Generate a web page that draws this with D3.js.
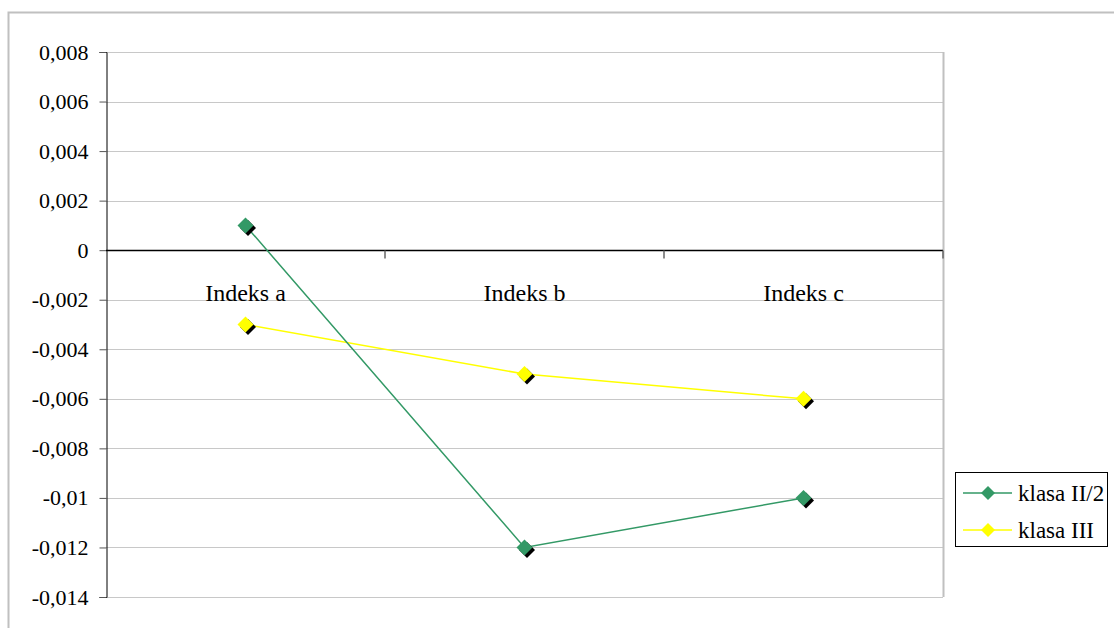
<!DOCTYPE html>
<html><head><meta charset="utf-8">
<script src="https://cdn.jsdelivr.net/npm/d3@7"></script>
<style>body{margin:0;background:#fff}svg{display:block}</style>
</head><body><svg id="c" width="1114" height="628"></svg>
<script>
const categories = ["Indeks a", "Indeks b", "Indeks c"];
const seriesNames = ["klasa II/2", "klasa III"];
const klasaII2 = [0.001, -0.012, -0.010];
const klasaIII = [-0.003, -0.005, -0.006];
const yTicks = [0.008, 0.006, 0.004, 0.002, 0, -0.002, -0.004, -0.006, -0.008, -0.01, -0.012, -0.014];
const colors = ["#339966", "#FFFF00"];

const FONT = "Liberation Serif";
const svg = d3.select("#c");
const L = 106, R = 943, T = 52, B = 597;
// outer border
svg.append("rect").attr("x", 8.5).attr("y", 12.5).attr("width", 1120).attr("height", 640)
  .attr("fill", "none").attr("stroke", "#c0c0c0").attr("stroke-width", 2);

const x = d3.scaleBand().domain(categories).range([L, R]).padding(0);
const y = d3.scaleLinear().domain([-0.014, 0.008]).range([B, T]);
const fmt = v => v === 0 ? "0" : String(+v.toFixed(3)).replace(".", ",");

// gridlines
svg.append("g").selectAll("line").data(yTicks).join("line")
  .attr("x1", L).attr("x2", R).attr("y1", d => Math.round(y(d)) + 0.5).attr("y2", d => Math.round(y(d)) + 0.5)
  .attr("stroke", "#c8c8c8").attr("stroke-width", 1);
// right border of plot
svg.append("line").attr("x1", R + 0.5).attr("x2", R + 0.5).attr("y1", T).attr("y2", B)
  .attr("stroke", "#c0c0c0").attr("stroke-width", 2);

// y axis
const yAxis = d3.axisLeft(y).tickValues(yTicks).tickSize(7).tickPadding(11).tickFormat(fmt);
const ya = svg.append("g").attr("transform", `translate(${L + 0.5},0)`).call(yAxis)
  .attr("font-family", FONT).attr("font-size", 22);
ya.select(".domain").attr("stroke", "#000");
ya.selectAll(".tick line").attr("stroke", "#555");
ya.selectAll(".tick text").attr("fill", "#000");

// zero line with category ticks
const y0 = Math.round(y(0)) + 0.5;
svg.append("line").attr("x1", L).attr("x2", R).attr("y1", y0).attr("y2", y0).attr("stroke", "#000").attr("stroke-width", 1.3);
const bounds = categories.map(c => x(c) + x.bandwidth());
svg.append("g").selectAll("line").data(bounds).join("line")
  .attr("x1", d => d).attr("x2", d => d).attr("y1", y0).attr("y2", y0 + 8)
  .attr("stroke", "#666").attr("stroke-width", 1.5);
svg.append("g").selectAll("text").data(categories).join("text")
  .attr("x", d => x(d) + x.bandwidth() / 2).attr("y", y0 + 50)
  .attr("text-anchor", "middle").attr("font-family", FONT).attr("font-size", 24).text(d => d);

const cx = c => x(c) + x.bandwidth() / 2;
function diamond(g, px, py, color, s) {
  const path = `M0,${-s}L${s},0L0,${s}L${-s},0Z`;
  g.append("path").attr("d", path).attr("transform", `translate(${px + 2.5},${py + 2.5})`).attr("fill", "#000");
  g.append("path").attr("d", path).attr("transform", `translate(${px},${py})`).attr("fill", color);
}
const series = [klasaII2, klasaIII];
const line = d3.line().x((d, i) => cx(categories[i])).y(d => y(d));
[1, 0].forEach(si => {
  svg.append("path").attr("d", line(series[si])).attr("fill", "none").attr("stroke", colors[si]).attr("stroke-width", 1.5);
});
[1, 0].forEach(si => {
  const g = svg.append("g");
  series[si].forEach((v, i) => diamond(g, cx(categories[i]), y(v), colors[si], 8));
});

// legend
const lg = svg.append("g");
lg.append("rect").attr("x", 955.5).attr("y", 472.5).attr("width", 152).attr("height", 74)
  .attr("fill", "#fff").attr("stroke", "#000").attr("stroke-width", 1);
seriesNames.forEach((n, i) => {
  const yy = 493 + i * 37;
  lg.append("line").attr("x1", 963).attr("x2", 1012).attr("y1", yy).attr("y2", yy).attr("stroke", colors[i]).attr("stroke-width", 1.5);
  lg.append("path").attr("d", "M0,-7L7,0L0,7L-7,0Z").attr("transform", `translate(988,${yy})`).attr("fill", colors[i]);
  lg.append("text").attr("x", 1018).attr("y", yy + 8).attr("font-family", FONT).attr("font-size", 23).text(n);
});
</script></body></html>
